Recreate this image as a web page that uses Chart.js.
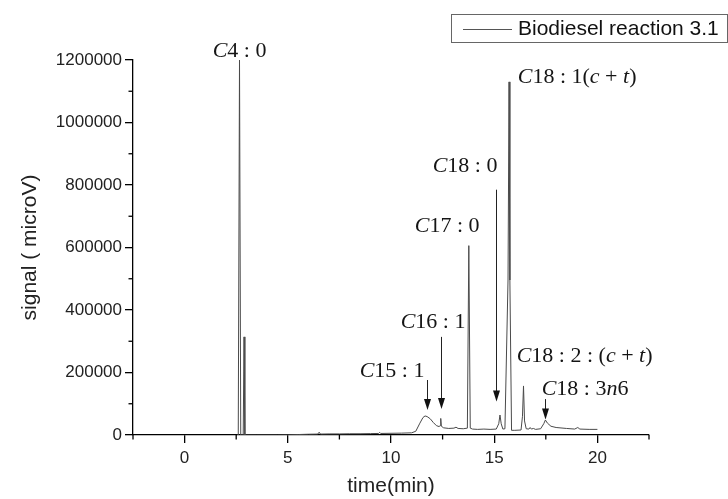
<!DOCTYPE html>
<html><head><meta charset="utf-8">
<script src="https://cdn.jsdelivr.net/npm/chart.js@4/dist/chart.umd.min.js"></script>
<style>html,body{margin:0;padding:0;background:#fff}#wrap{width:728px;height:499px}</style>
</head><body><div id="wrap"><canvas id="c" width="728" height="499"></canvas></div>
<script>
const seriesName = 'Biodiesel reaction 3.1';
const timeMin = [2.55,2.60,2.66,2.72,2.84,2.88,2.92,3.50,4.50,5.00,5.50,6.00,6.45,6.52,6.58,7.00,7.50,8.00,8.50,9.00,9.40,9.45,9.50,10.00,10.50,11.00,11.20,11.40,11.55,11.65,11.75,11.90,12.05,12.20,12.33,12.38,12.41,12.44,12.55,12.80,13.05,13.15,13.25,13.50,13.70,13.77,13.84,13.95,14.20,14.50,14.80,15.10,15.22,15.28,15.34,15.42,15.52,15.67,15.72,15.76,15.84,16.00,16.30,16.37,16.42,16.47,16.55,16.68,16.74,16.80,16.90,17.00,17.25,17.40,17.48,17.58,17.75,18.00,18.50,18.90,19.05,19.15,19.60,20.00];
const signalMicroV = [0,0,1200000,0,0,314000,0,0,0,500,1500,2500,3000,9000,3000,3500,3500,4000,4000,4500,5000,8500,5000,5500,6000,7000,12000,38000,56000,61000,59000,52000,40000,30000,27000,30000,53000,28000,23000,21000,22000,25000,21000,20000,22000,606000,22000,19000,18000,19000,18000,19000,36000,64000,36000,19000,20000,496000,1130000,496000,15000,15000,16000,60000,157000,45000,20000,19000,24000,19000,21000,18000,20000,36000,48000,38000,28000,24000,21000,19000,24000,19000,18000,18000];
const xTickValues = [0,5,10,15,20];
const xMinorTickValues = [-2.5,2.5,7.5,12.5,17.5,22.5];
const yTickValues = [0,200000,400000,600000,800000,1000000,1200000];
const yMinorTickValues = [100000,300000,500000,700000,900000,1100000];

// peak annotations (anchored in data units); runs: [text, italic]
const peakLabels = [
  {runs:[['C',1],['4 : 0',0]], x:1.36, y:1211000},
  {runs:[['C',1],['18 : 1(',0],['c',1],[' + ',0],['t',1],[')',0]], x:16.14, y:1128000},
  {runs:[['C',1],['18 : 0',0]], x:12.02, y:843000},
  {runs:[['C',1],['17 : 0',0]], x:11.15, y:650000},
  {runs:[['C',1],['16 : 1',0]], x:10.47, y:343000},
  {runs:[['C',1],['15 : 1',0]], x:8.48, y:186000},
  {runs:[['C',1],['18 : 2 : (',0],['c',1],[' + ',0],['t',1],[')',0]], x:16.09, y:234000},
  {runs:[['C',1],['18 : 3',0],['n',1],['6',0]], x:17.3, y:128000}
];
const peakArrows = [
  {x:11.72, from:176000, to:80000},
  {x:12.41, from:314000, to:83000},
  {x:15.11, from:785000, to:107000},
  {x:17.45, from:115000, to:50000}
];

const points = timeMin.map((t,i)=>({x:t, y:signalMicroV[i]}));

const overlay = {
  id:'overlay',
  afterDraw(chart){
    const ctx = chart.ctx, xs = chart.scales.x, ys = chart.scales.y;
    const ca = chart.chartArea;
    ctx.save();
    // minor ticks
    ctx.strokeStyle='#000'; ctx.lineWidth=1.3;
    xMinorTickValues.forEach(v=>{
      const px = xs.getPixelForValue(v);
      ctx.beginPath(); ctx.moveTo(px, ca.bottom); ctx.lineTo(px, ca.bottom+4.5); ctx.stroke();
    });
    yMinorTickValues.forEach(v=>{
      const py = ys.getPixelForValue(v);
      ctx.beginPath(); ctx.moveTo(ca.left, py); ctx.lineTo(ca.left-4.5, py); ctx.stroke();
    });
    // arrows
    ctx.strokeStyle='#222'; ctx.fillStyle='#111'; ctx.lineWidth=1;
    peakArrows.forEach(a=>{
      const px = Math.round(xs.getPixelForValue(a.x))+0.5;
      const p1 = ys.getPixelForValue(a.from), p2 = ys.getPixelForValue(a.to);
      const hl = 11, hw = 3.5;
      ctx.beginPath(); ctx.moveTo(px,p1); ctx.lineTo(px,p2-hl+1); ctx.stroke();
      ctx.beginPath(); ctx.moveTo(px-hw,p2-hl); ctx.lineTo(px+hw,p2-hl); ctx.lineTo(px,p2); ctx.closePath(); ctx.fill();
    });
    // labels
    ctx.fillStyle='#151515'; ctx.textBaseline='alphabetic'; ctx.textAlign='left';
    peakLabels.forEach(l=>{
      let px = xs.getPixelForValue(l.x); const py = ys.getPixelForValue(l.y);
      l.runs.forEach(([t,it])=>{
        ctx.font = (it?'italic ':'')+'22px "Liberation Serif"';
        ctx.fillText(t, px, py);
        px += ctx.measureText(t).width;
      });
    });
    // legend
    ctx.strokeStyle='#666'; ctx.lineWidth=1;
    ctx.strokeRect(451.5,14.5,276,28);
    ctx.strokeStyle='#555'; ctx.beginPath(); ctx.moveTo(463,29.5); ctx.lineTo(512,29.5); ctx.stroke();
    ctx.fillStyle='#111'; ctx.font='21px "Liberation Sans"'; ctx.textBaseline='middle';
    ctx.fillText(chart.data.datasets[0].label, 518, 29);
    ctx.restore();
  }
};

new Chart(document.getElementById('c'), {
  type:'line',
  data:{datasets:[{label:seriesName, data:points, borderColor:'#4a4a4a', borderWidth:1, pointRadius:0, tension:0, fill:false}]},
  options:{
    responsive:false, animation:false, devicePixelRatio:1,
    layout:{padding:{top:60, right:79, left:0, bottom:0}},
    plugins:{legend:{display:false}, tooltip:{enabled:false}},
    scales:{
      x:{type:'linear', min:-2.5, max:22.5,
        afterBuildTicks:s=>{s.ticks = xTickValues.map(v=>({value:v}));},
        afterFit:s=>{s.height=64;},
        grid:{display:true, drawOnChartArea:false, tickLength:8, color:'#000', lineWidth:1.3},
        border:{display:true, color:'#000', width:1.3},
        ticks:{color:'#222', font:{family:'Liberation Sans', size:17}, padding:5, maxRotation:0},
        title:{display:true, text:'time(min)', color:'#222', font:{family:'Liberation Sans', size:21}, padding:{top:0,bottom:0}}
      },
      y:{type:'linear', min:0, max:1200000,
        afterBuildTicks:s=>{s.ticks = yTickValues.map(v=>({value:v}));},
        afterFit:s=>{s.width=133;},
        grid:{display:true, drawOnChartArea:false, tickLength:8, color:'#000', lineWidth:1.3},
        border:{display:true, color:'#000', width:1.3},
        ticks:{color:'#222', font:{family:'Liberation Sans', size:17}, padding:3, callback:v=>String(v)},
        title:{display:true, text:'signal ( microV)', color:'#222', font:{family:'Liberation Sans', size:21}, padding:{top:18,bottom:0}}
      }
    }
  },
  plugins:[overlay]
});
</script></body></html>
